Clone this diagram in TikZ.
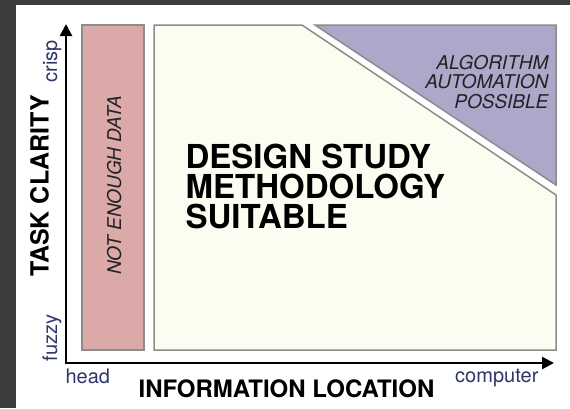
\documentclass[tikz,border=0pt]{standalone}
\usepackage{fontspec}
\setsansfont{TeX Gyre Heros}
\usetikzlibrary{arrows.meta}
\definecolor{cdark}{HTML}{3C3C3C}
\definecolor{cred}{HTML}{DCA9A9}
\definecolor{ccream}{HTML}{FCFCF0}
\definecolor{cpurple}{HTML}{ABA8CA}
\definecolor{cedge}{HTML}{8C8C8C}
\definecolor{cnavy}{HTML}{2E3668}
\definecolor{ctext}{HTML}{222222}
\tikzset{
  every picture/.style={font=\sffamily, line width=1.2pt},
  region/.style={draw=cedge, fill=#1, line width=1.5pt},
  region/.default=ccream,
  axis/.style={{Triangle[length=12pt, width=12pt]}-{Triangle[length=12pt, width=12pt]}, line width=2.6pt, black},
  endlabel/.style={font=\sffamily\fontsize{20}{22}\selectfont, text=cnavy, inner sep=0pt},
  axislabel/.style={font=\sffamily\bfseries\fontsize{24}{26}\selectfont, inner sep=0pt},
  zonelabel/.style={font=\sffamily\itshape\fontsize{19}{19.5}\selectfont, text=ctext, inner sep=0pt},
}

\begin{document}
\begin{tikzpicture}[x=1pt, y=-1pt]
  \useasboundingbox (0,0) rectangle (570,408);
  \fill[cdark] (0,0) rectangle (570,408);
  \fill[white] (16,5) rectangle (570,408);

  % regions
  \draw[region=cred] (82,25) rectangle (144,350);
  \draw[region] (154,25) -- (302,25) -- (556,195) -- (556,350) -- (154,350) -- cycle;
  \draw[region=cpurple] (315,25) -- (556,25) -- (556,185) -- cycle;

  % axes
  \coordinate (org) at (66,363);
  \coordinate (ytop) at (66,24);
  \coordinate (xend) at (554,363);
  \draw[axis] (ytop) -- (org) -- (xend);

  \node[endlabel, rotate=90, anchor=base] (crisp) at (57,61) {crisp};
  \node[endlabel, rotate=90, anchor=base] (fuzzy) at (57,338) {fuzzy};
  \node[endlabel, anchor=base west] (head) at (65,383) {head};
  \node[endlabel, anchor=base east] (comp) at (539,382) {computer};
  \node[axislabel, anchor=base] (xlabel) at (286.5,397) {INFORMATION LOCATION};
  \node[axislabel, rotate=90, anchor=base, font=\sffamily\bfseries\fontsize{25}{27}\selectfont] (ylabel) at (48.5,186) {TASK CLARITY};

  % zone texts
  \node[zonelabel, rotate=90, anchor=base] (nodata) at (121,185.5) {NOT ENOUGH DATA};
  \node[font=\sffamily\bfseries\fontsize{33}{30}\selectfont, align=left, anchor=north west, inner sep=0pt] (design) at (185,143)
    {DESIGN STUDY\\METHODOLOGY\\SUITABLE};
  \node[zonelabel, align=right, anchor=north east] (algo) at (549,54.5)
    {ALGORITHM\\AUTOMATION\\POSSIBLE};
\end{tikzpicture}
\end{document}
